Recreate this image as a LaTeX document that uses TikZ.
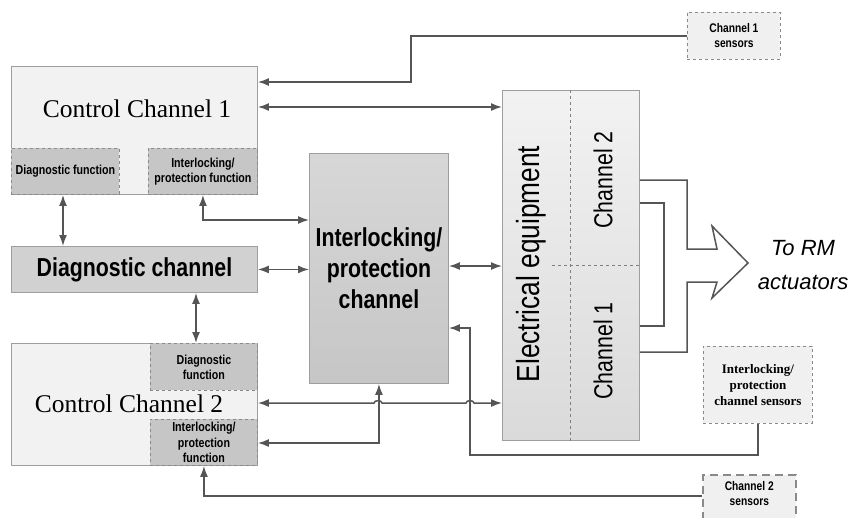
\documentclass[tikz,border=0pt]{standalone}
\usepackage{fontspec}
\setmainfont{Liberation Sans}
\newfontfamily\narrowsf[FakeStretch=0.82]{Liberation Sans}
\newfontfamily\timesf{Liberation Serif}
\usetikzlibrary{arrows.meta}
\definecolor{wirecol}{HTML}{555555}
\definecolor{boxline}{HTML}{9E9E9E}
\definecolor{subline}{HTML}{8A8A8A}
\definecolor{panel}{HTML}{F2F2F2}
\definecolor{subfill}{HTML}{C6C6C6}
\definecolor{sensfill}{HTML}{F0F0F0}
\tikzset{
  box/.style={draw=boxline, line width=0.9pt, inner sep=0pt, anchor=north west, align=center},
  chbox/.style={box, fill=panel},
  subbox/.style={box, dashed, draw=subline, fill=subfill, font=\narrowsf\bfseries\fontsize{13}{15}\selectfont},
  sensbox/.style={box, dashed, draw=subline, fill=sensfill, font=\narrowsf\bfseries\fontsize{12.5}{15}\selectfont},
  bigtxt/.style={font=\narrowsf\bfseries\fontsize{26}{31}\selectfont},
  wire/.style={draw=wirecol, line width=1.5pt},
  onearrow/.style={wire, -{Latex[length=11pt,width=8pt]}},
  twoarrow/.style={wire, {Latex[length=11pt,width=8pt]}-{Latex[length=11pt,width=8pt]}},
  split/.style={draw=gray, dashed, line width=0.9pt}
}
\begin{document}
\begin{tikzpicture}[x=1pt,y=-1pt]
\useasboundingbox (0,0) rectangle (850,517);
% control channel 1
\node[chbox, minimum width=246pt, minimum height=128pt] (cc1) at (11,66) {};
\node[font=\timesf\fontsize{25.5}{30}\selectfont] (cc1lbl) at (137,109) {Control Channel 1};
\node[subbox, minimum width=108pt, minimum height=46pt] (cc1d) at (11,148) {Diagnostic function};
\node[subbox, minimum width=109pt, minimum height=46pt] (cc1i) at (148,148) {Interlocking/\\protection function};
% diagnostic channel
\node[box, fill=subfill!80!white, minimum width=246pt, minimum height=46pt, bigtxt] (dc) at (11,246) {Diagnostic channel};
% control channel 2
\node[chbox, minimum width=246pt, minimum height=122pt] (cc2) at (11,343) {};
\node[font=\timesf\fontsize{25.5}{30}\selectfont] (cc2lbl) at (129,404) {Control Channel 2};
\node[subbox, minimum width=107pt, minimum height=47pt] (cc2d) at (150,343) {Diagnostic\\function};
\node[subbox, minimum width=107pt, minimum height=46pt, font=\narrowsf\bfseries\fontsize{13}{15.5}\selectfont] (cc2i) at (150,419) {Interlocking/\\protection\\function};
% interlocking channel
\node[box, top color=subfill!70!white, bottom color=subfill, minimum width=139pt, minimum height=230pt, bigtxt] (ic) at (309,153) {Interlocking/\\protection\\channel};
% electrical equipment
\node[box, top color=panel, bottom color=panel!90!black, minimum width=137pt, minimum height=350pt] (ee) at (502,90) {};
\draw[split] ([xshift=68pt]ee.north west) -- ([xshift=68pt]ee.south west);
\draw[split] ([xshift=50pt]ee.west) -- (ee.east);
\node[rotate=90, font=\narrowsf\fontsize{32}{36}\selectfont] (eelbl) at (531,264) {Electrical equipment};
\node[rotate=90, font=\narrowsf\fontsize{26}{30}\selectfont] (ee2) at (603,180) {Channel 2};
\node[rotate=90, font=\narrowsf\fontsize{26}{30}\selectfont] (ee1) at (603,351) {Channel 1};
% sensors
\node[sensbox, minimum width=93pt, minimum height=47pt] (s1) at (687,12) {Channel 1\\sensors};
\node[sensbox, minimum width=109pt, minimum height=77pt, font=\timesf\bfseries\fontsize{13}{16}\selectfont] (sil) at (703,346) {Interlocking/\\protection\\channel sensors};
\node[sensbox, line width=1.6pt, dash pattern=on 8pt off 5pt, minimum width=93pt, minimum height=50pt, text depth=12pt] (s2) at (702,474) {Channel 2\\sensors};
\node[font=\itshape\fontsize{22}{34}\selectfont, align=center] (rm) at (803,265) {To RM\\actuators};
\coordinate (ilturn) at (470,455);
% connectors
\draw[onearrow] (s1.west) -| (411,82) -- (cc1.east |- 0,82);
\draw[twoarrow] (cc1.east |- 0,107) -- (ee.west |- 0,107);
\draw[twoarrow] (cc1d.south -| 63,0) -- (dc.north -| 63,0);
\draw[twoarrow] (cc1i.south) |- (ic.west |- 0,220);
\draw[twoarrow] (dc.east) -- (ic.west |- dc.east);
\draw[twoarrow] (ic.east |- 0,266) -- (ee.west |- 0,266);
\draw[twoarrow] (dc.south -| 196,0) -- (cc2d.north -| 196,0);
\draw[twoarrow] (cc2.east |- 0,403) -- (374,403) to[out=90,in=90] (382,403) -- (466,403) to[out=90,in=90] (474,403) -- (ee.west |- 0,403);
\draw[twoarrow] (cc2i.east |- 0,443) -| (ic.south);
\draw[onearrow] (sil.south) |- (ilturn) |- (ic.east |- 0,328);
\draw[onearrow] (s2.west |- 0,496) -| (cc2i.south);
% outputs to actuators
\draw[wire] (ee.east |- 0,180) -| (687,249) -- (717,249) -- (712,226) -- (748,263) -- (712,298) -- (717,282) -- (687,282) |- (ee.east |- 0,352);
\draw[wire] (ee.east |- 0,203) -| (664,326) -- (ee.east |- 0,326);
\end{tikzpicture}
\end{document}
